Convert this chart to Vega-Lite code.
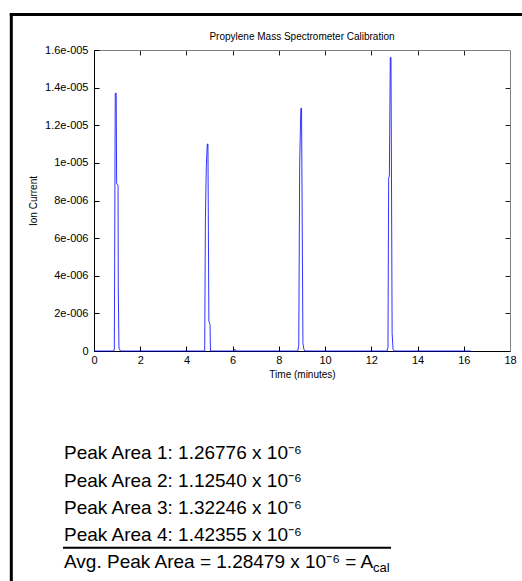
{
  "$schema": "https://vega.github.io/schema/vega-lite/v6.json",
  "width": 416,
  "height": 301,
  "autosize": {"type": "none"},
  "padding": {"left": 94, "top": 50, "right": 12, "bottom": 230},
  "background": "white",
  "config": {
    "font": "Liberation Sans",
    "view": {"stroke": null},
    "axis": {"grid": false}
  },
  "title": {
    "text": "Propylene Mass Spectrometer Calibration",
    "fontSize": 10,
    "fontWeight": "normal",
    "color": "#000000",
    "anchor": "middle",
    "offset": -30
  },
  "datasets": {
    "trace": [
      {"time": 0, "current": 0},
      {"time": 0.85, "current": 0},
      {"time": 0.88, "current": 1e-7},
      {"time": 0.92, "current": 1.37e-5},
      {"time": 0.96, "current": 1.37e-5},
      {"time": 0.98, "current": 8.9e-6},
      {"time": 1.04, "current": 8.8e-6},
      {"time": 1.05, "current": 3.4e-6},
      {"time": 1.08, "current": 1.5e-7},
      {"time": 1.12, "current": 5e-8},
      {"time": 1.16, "current": 0},
      {"time": 4.79, "current": 0},
      {"time": 4.82, "current": 7.0e-6},
      {"time": 4.86, "current": 9.8e-6},
      {"time": 4.90, "current": 1.10e-5},
      {"time": 4.93, "current": 1.10e-5},
      {"time": 4.97, "current": 1.6e-6},
      {"time": 5.02, "current": 1.4e-6},
      {"time": 5.04, "current": 0},
      {"time": 6.05, "current": 0},
      {"time": 6.10, "current": 1e-7},
      {"time": 6.15, "current": 0},
      {"time": 8.82, "current": 0},
      {"time": 8.86, "current": 3e-7},
      {"time": 8.90, "current": 1.0e-5},
      {"time": 8.95, "current": 1.29e-5},
      {"time": 8.98, "current": 1.29e-5},
      {"time": 9.04, "current": 4e-7},
      {"time": 9.08, "current": 1e-7},
      {"time": 9.12, "current": 0},
      {"time": 12.68, "current": 0},
      {"time": 12.72, "current": 2e-7},
      {"time": 12.75, "current": 9.2e-6},
      {"time": 12.78, "current": 9.3e-6},
      {"time": 12.82, "current": 1.56e-5},
      {"time": 12.85, "current": 1.56e-5},
      {"time": 12.90, "current": 9.4e-7},
      {"time": 12.94, "current": 1e-7},
      {"time": 12.98, "current": 0},
      {"time": 16.3, "current": 0}
    ],
    "areas": [
      {"line": 1, "label": "Peak Area 1: 1.26776 x 10⁻⁶"},
      {"line": 2, "label": "Peak Area 2: 1.12540 x 10⁻⁶"},
      {"line": 3, "label": "Peak Area 3: 1.32246 x 10⁻⁶"},
      {"line": 4, "label": "Peak Area 4: 1.42355 x 10⁻⁶"},
      {"line": 5, "label": "Avg. Peak Area = 1.28479 x 10⁻⁶ = A"}
    ],
    "sub": [
      {"line": 5, "label": "cal"}
    ],
    "page": [
      {"name": "page border"}
    ]
  },
  "layer": [
    {
      "data": {"name": "trace"},
      "mark": {"type": "line", "color": "#0000ff", "strokeWidth": 1, "strokeOpacity": 0.8},
      "encoding": {
        "x": {
          "field": "time", "type": "quantitative",
          "scale": {"domain": [0, 18], "nice": false, "zero": false},
          "axis": {
            "orient": "bottom",
            "values": [0, 2, 4, 6, 8, 10, 12, 14, 16, 18],
            "title": "Time (minutes)",
            "titleFontSize": 10, "titleFontWeight": "normal", "titleColor": "#000000",
            "titlePadding": 4,
            "labelFontSize": 11, "labelColor": "#000000",
            "labelFlush": false, "labelOverlap": false,
            "labelPadding": 8,
            "tickSize": -5, "tickColor": "#000000",
            "domainColor": "#000000"
          }
        },
        "y": {
          "field": "current", "type": "quantitative",
          "scale": {"domain": [0, 1.6e-5], "nice": false},
          "axis": {
            "orient": "left",
            "values": [0, 2e-6, 4e-6, 6e-6, 8e-6, 1e-5, 1.2e-5, 1.4e-5, 1.6e-5],
            "labelExpr": "datum.value == 0 ? '0' : replace(format(datum.value, '.2~e'), 'e-', 'e-00')",
            "title": "Ion Current",
            "titleFontSize": 10, "titleFontWeight": "normal", "titleColor": "#000000",
            "titlePadding": 6,
            "labelFontSize": 11, "labelColor": "#000000",
            "labelPadding": 11,
            "labelOverlap": false,
            "tickSize": -5, "tickColor": "#000000",
            "domainColor": "#000000"
          }
        }
      }
    },
    {
      "data": {"name": "trace"},
      "mark": {"type": "line", "opacity": 0},
      "encoding": {
        "x": {
          "field": "time", "type": "quantitative",
          "scale": {"domain": [0, 18], "nice": false, "zero": false},
          "axis": {
            "orient": "top",
            "values": [2, 4, 6, 8, 10, 12, 14, 16],
            "labels": false, "title": null,
            "tickSize": -5, "tickColor": "#222222",
            "domainColor": "#808080"
          }
        },
        "y": {
          "field": "current", "type": "quantitative",
          "scale": {"domain": [0, 1.6e-5], "nice": false},
          "axis": {
            "orient": "right",
            "values": [2e-6, 4e-6, 6e-6, 8e-6, 1e-5, 1.2e-5, 1.4e-5],
            "labels": false, "title": null,
            "tickSize": -5, "tickColor": "#222222",
            "domainColor": "#808080"
          }
        }
      }
    },
    {
      "layer": [
        {
          "data": {"name": "areas"},
          "mark": {"type": "text", "align": "left", "baseline": "alphabetic", "fontSize": 19, "color": "#000000"},
          "encoding": {
            "x": {"datum": -1.298, "type": "quantitative", "scale": {"domain": [0, 18], "nice": false, "zero": false}, "axis": null},
            "y": {"field": "line", "type": "quantitative", "scale": {"domain": [-14.048, -2.982], "reverse": true, "nice": false, "zero": false}, "axis": null},
            "text": {"field": "label"}
          }
        },
        {
          "data": {"name": "sub"},
          "mark": {"type": "text", "align": "left", "baseline": "alphabetic", "fontSize": 13, "color": "#000000", "dx": 309, "dy": 3.5},
          "encoding": {
            "x": {"datum": -1.298, "type": "quantitative", "scale": {"domain": [0, 18], "nice": false, "zero": false}, "axis": null},
            "y": {"field": "line", "type": "quantitative", "scale": {"domain": [-14.048, -2.982], "reverse": true, "nice": false, "zero": false}, "axis": null},
            "text": {"field": "label"}
          }
        },
        {
          "data": {"name": "page"},
          "mark": {"type": "rule", "color": "#000000", "strokeWidth": 2},
          "encoding": {
            "x": {"datum": -1.341, "type": "quantitative", "scale": {"domain": [0, 18], "nice": false, "zero": false}, "axis": null},
            "x2": {"datum": 12.851},
            "y": {"datum": 4.25, "type": "quantitative", "scale": {"domain": [-14.048, -2.982], "reverse": true, "nice": false, "zero": false}, "axis": null}
          }
        },
        {
          "data": {"name": "page"},
          "mark": {"type": "rule", "color": "#000000", "strokeWidth": 3, "strokeCap": "square"},
          "encoding": {
            "x": {"datum": -3.578, "type": "quantitative", "scale": {"domain": [0, 18], "nice": false, "zero": false}, "axis": null},
            "x2": {"datum": 19.5},
            "y": {"datum": -15.353, "type": "quantitative", "scale": {"domain": [-14.048, -2.982], "reverse": true, "nice": false, "zero": false}, "axis": null}
          }
        },
        {
          "data": {"name": "page"},
          "mark": {"type": "rule", "color": "#000000", "strokeWidth": 3, "strokeCap": "square"},
          "encoding": {
            "x": {"datum": -3.578, "type": "quantitative", "scale": {"domain": [0, 18], "nice": false, "zero": false}, "axis": null},
            "y": {"datum": -15.353, "type": "quantitative", "scale": {"domain": [-14.048, -2.982], "reverse": true, "nice": false, "zero": false}, "axis": null},
            "y2": {"datum": 7}
          }
        }
      ]
    }
  ],
  "resolve": {
    "scale": {"y": "independent"},
    "axis": {"x": "independent", "y": "independent"}
  }
}
